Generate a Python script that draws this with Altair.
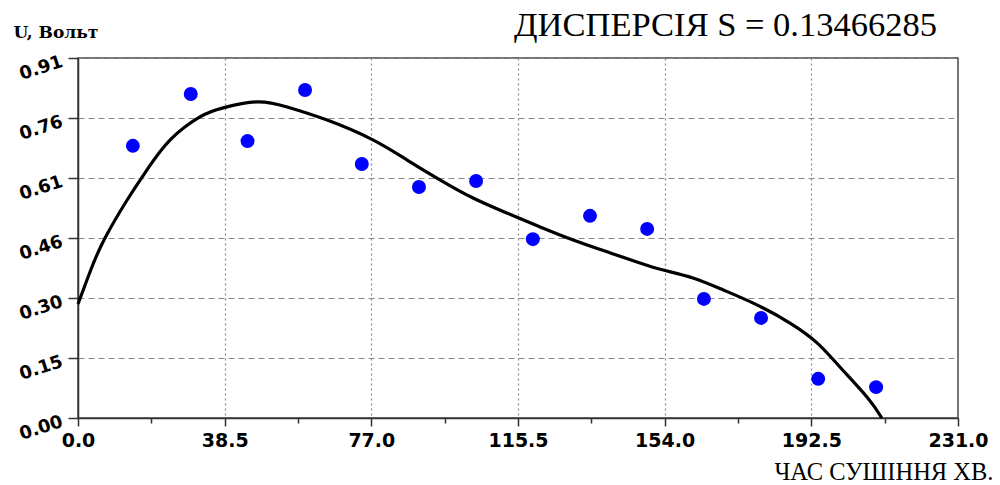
import altair as alt
import pandas as pd

# Measured points (time, min ; voltage, V)
PX = [14.4, 29.6, 44.5, 59.6, 74.5, 89.5, 104.5, 119.4, 134.4, 149.4, 164.3, 179.3, 194.3, 209.5]
PY = [0.688, 0.819, 0.700, 0.829, 0.642, 0.584, 0.599, 0.452, 0.511, 0.478, 0.301, 0.253, 0.099, 0.078]

# Fitted curve
CX = [0, 3.5, 7.1, 12.9, 18.1, 24.2, 32.0, 38.1, 47.0, 54.9, 65.4, 77.4, 86.4, 95.0,
      103.7, 112.6, 121.3, 130.0, 138.9, 147.5, 153.6, 161.4, 169.3, 178.2, 186.9,
      194.0, 200.0, 207.1, 211.0]
CY = [0.288, 0.378, 0.455, 0.551, 0.627, 0.703, 0.761, 0.784, 0.799, 0.786, 0.753, 0.703,
      0.652, 0.602, 0.556, 0.518, 0.483, 0.450, 0.420, 0.392, 0.374, 0.354, 0.324, 0.286,
      0.240, 0.190, 0.129, 0.053, 0.0]

TITLE = "ДИСПЕРСІЯ S = 0.13466285"
X_TITLE = "ЧАС СУШІННЯ ХВ."
Y_TITLE = "U, Вольт"

X_MAX = 231.0
Y_MAX = 0.91
X_TICKS = [i * X_MAX / 24 for i in range(25)]
Y_TICKS = [i * Y_MAX / 24 for i in range(25)]

pts = pd.DataFrame({"t": PX, "u": PY})
curve = pd.DataFrame({"t": CX, "u": CY})

x_major = "datum.value % 38.5 == 0"
y_major = "round(datum.value / 0.91 * 24) % 4 == 0"

x_enc = alt.X(
    "t:Q",
    scale=alt.Scale(domain=[0, X_MAX], nice=False, zero=False),
    axis=alt.Axis(
        values=X_TICKS,
        title=X_TITLE,
        titleFont="Liberation Serif", titleFontSize=24.5, titleFontWeight="normal",
        titleColor="black", titleX=915, titleY=61, titleAlign="right",
        titleBaseline="alphabetic",
        labelExpr=f"{x_major} ? format(datum.value, '.1f') : ''",
        labelFont="DejaVu Sans", labelFontWeight="bold", labelFontSize=19,
        labelColor="black", labelPadding=5, labelFlush=False, labelOverlap=False,
        tickSize={"condition": {"test": x_major, "value": 8}, "value": 5},
        tickColor="#333", tickWidth=1.5,
        domainColor="#333", domainWidth=1.5,
        grid=True, gridDash=[2, 3], gridColor="#888", gridWidth=1.2,
        gridOpacity={"condition": {"test": x_major, "value": 1}, "value": 0},
    ),
)

y_enc = alt.Y(
    "u:Q",
    scale=alt.Scale(domain=[0, Y_MAX], nice=False, zero=False),
    axis=alt.Axis(
        values=Y_TICKS,
        title=Y_TITLE,
        titleAngle=0, titleX=-65, titleY=-21, titleAlign="left",
        titleBaseline="alphabetic",
        titleFont="DejaVu Serif", titleFontSize=17, titleFontWeight="bold",
        titleColor="black",
        labelExpr=f"{y_major} ? format(datum.value + 1e-9, '.2f') : ''",
        labelAngle=342, labelAlign="right", labelBaseline="middle",
        labelOffset=3,
        labelFont="DejaVu Sans", labelFontWeight="bold", labelFontSize=18,
        labelColor="black", labelPadding=6, labelFlush=False, labelOverlap=False,
        tickSize={"condition": {"test": y_major, "value": 10}, "value": 5},
        tickColor="#333", tickWidth=1.5,
        domainColor="#333", domainWidth=1.5,
        grid=True, gridDash=[6, 4], gridColor="#888", gridWidth=1.2,
        gridOpacity={"condition": {"test": y_major, "value": 1}, "value": 0},
    ),
)

line = alt.Chart(curve).mark_line(
    color="black", strokeWidth=3.2, interpolate="natural"
).encode(x=x_enc, y=y_enc)

dots = alt.Chart(pts).mark_circle(
    color="#0000FF", size=195, opacity=1
).encode(x="t:Q", y="u:Q")

chart = (
    alt.layer(line, dots)
    .properties(
        width=880,
        height=360,
        autosize=alt.AutoSizeParams(type="none"),
        padding={"left": 70, "top": 50, "right": 34, "bottom": 70},
        title=alt.TitleParams(
            text=TITLE, font="Liberation Serif", fontSize=34.5, fontWeight="normal",
            color="black", anchor="end", frame="group", dx=-21, dy=24,
        ),
    )
    .configure_view(stroke="#444", strokeWidth=1.5)
)

chart.save("out.html", embed_options={"renderer": "svg", "actions": False})
